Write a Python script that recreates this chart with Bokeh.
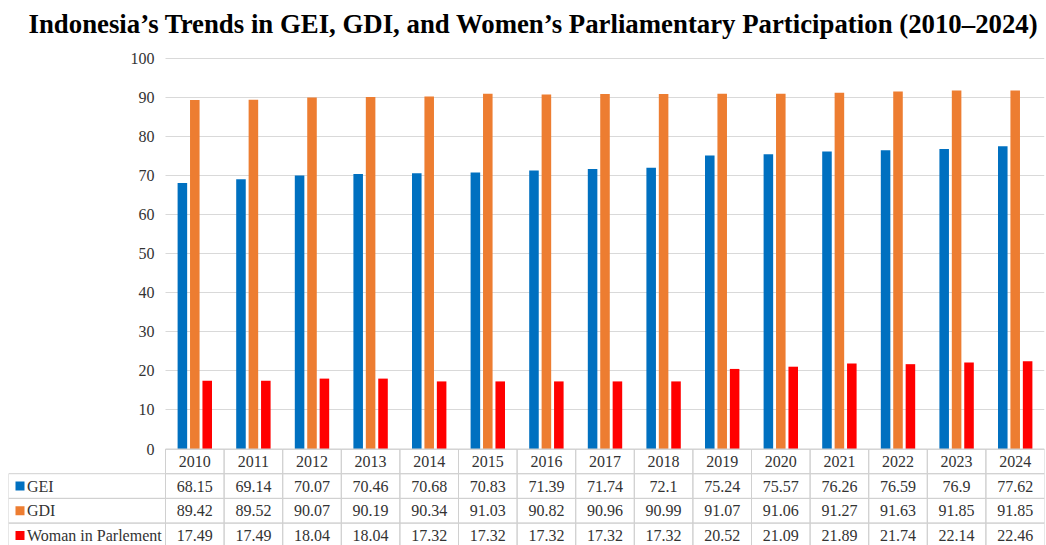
from bokeh.plotting import figure
from bokeh.models import ColumnDataSource, Range1d, FixedTicker
from bokeh.transform import dodge
from bokeh.core.properties import value
from bokeh.embed import file_html
from bokeh.resources import INLINE

# ---- data ----
years = ["2010", "2011", "2012", "2013", "2014", "2015", "2016", "2017",
         "2018", "2019", "2020", "2021", "2022", "2023", "2024"]
gei = [68.15, 69.14, 70.07, 70.46, 70.68, 70.83, 71.39, 71.74,
       72.1, 75.24, 75.57, 76.26, 76.59, 76.9, 77.62]
gdi = [89.42, 89.52, 90.07, 90.19, 90.34, 91.03, 90.82, 90.96,
       90.99, 91.07, 91.06, 91.27, 91.63, 91.85, 91.85]
women = [17.49, 17.49, 18.04, 18.04, 17.32, 17.32, 17.32, 17.32,
         17.32, 20.52, 21.09, 21.89, 21.74, 22.14, 22.46]
series_names = ["GEI", "GDI", "Woman in Parlement"]
series_colors = ["#0070C0", "#ED7D31", "#FF0000"]
y_ticks = [0, 10, 20, 30, 40, 50, 60, 70, 80, 90, 100]
title_text = "Indonesia\u2019s Trends in GEI, GDI, and Women\u2019s Parliamentary Participation (2010\u20132024)"

SERIF = "Liberation Serif"
TXT = "#333333"
GRID = "#d9d9d9"
TABLE_LINE = "#d0d0d0"

# ---- layout constants (pixels) ----
W, H = 1046, 545
BORDER_L, BORDER_R, BORDER_T = 8, 2, 43
LABEL_COL = 157          # width of the table's label column
Y100_PX = 58.3           # page y of value 100
Y0_PX = 448.5            # page y of value 0
ROW_PX = 24.7            # table row height

n = len(years)
frame_w = W - BORDER_L - BORDER_R
cat_px = (frame_w - LABEL_COL) / n
L = LABEL_COL / cat_px
ppu = (Y0_PX - Y100_PX) / 100.0
y_end = 100 + (Y100_PX - BORDER_T) / ppu
y_start = -(H - Y0_PX) / ppu
row = ROW_PX / ppu

p = figure(width=W, height=H, x_range=Range1d(-L, n), y_range=Range1d(y_start, y_end),
           output_backend="svg", toolbar_location=None,
           min_border_left=BORDER_L, min_border_right=BORDER_R,
           min_border_top=BORDER_T, min_border_bottom=0)
p.title.text = title_text
p.title.text_font = SERIF
p.title.text_font_size = "26.8px"
p.title.text_font_style = "bold"
p.title.text_color = "#000000"
p.title.align = "left"
p.title.offset = 20
p.title.standoff = 10
p.outline_line_color = None

# ---- bars ----
xc = [i + 0.5 for i in range(n)]
src = ColumnDataSource(dict(x=xc, year=years, gei=gei, gdi=gdi, women=women))
w = 0.163
off = 0.212
for col, o, c in zip(["gei", "gdi", "women"], [-off, 0, off], series_colors):
    p.vbar(x=dodge("x", o), top=col, width=w, source=src, fill_color=c, line_color=None)

# ---- axes / grid ----
p.xaxis.visible = False
p.xgrid.grid_line_color = None
p.yaxis.fixed_location = 0
p.yaxis.ticker = FixedTicker(ticks=y_ticks)
p.yaxis.axis_line_color = None
p.yaxis.major_tick_line_color = None
p.yaxis.minor_tick_line_color = None
p.yaxis.major_label_text_font = SERIF
p.yaxis.major_label_text_font_size = "16px"
p.yaxis.major_label_text_color = TXT
p.yaxis.major_label_standoff = 5
p.ygrid.grid_line_color = GRID
p.ygrid.ticker = FixedTicker(ticks=y_ticks)
p.ygrid.cross_bounds = (0, n)

# ---- data table ----
rows = [gei, gdi, women]
left, right, top, bottom = [], [], [], []
for i in range(n):
    left.append(i); right.append(i + 1); top.append(0); bottom.append(-row)
for r in range(len(rows)):
    left.append(-L); right.append(0); top.append(-(r + 1) * row); bottom.append(-(r + 2) * row)
    for i in range(n):
        left.append(i); right.append(i + 1)
        top.append(-(r + 1) * row); bottom.append(-(r + 2) * row)
p.quad(left=left, right=right, top=top, bottom=bottom, fill_color=None,
       line_color=TABLE_LINE, line_width=1)

p.text(x=xc, y=[-0.5 * row] * n, text=years,
       text_font=value(SERIF), text_font_size="16px", text_color=TXT,
       text_align="center", text_baseline="middle")
for r, vals in enumerate(rows):
    p.text(x=xc, y=[-(r + 1.5) * row] * n, text=[str(v) for v in vals],
           text_font=value(SERIF), text_font_size="16px", text_color=TXT,
           text_align="center", text_baseline="middle")

ly = [-(r + 1.5) * row for r in range(len(rows))]
key_x = -L + 11.5 / cat_px
p.scatter(x=[key_x] * 3, y=ly, marker="square", size=9, fill_color=series_colors,
          line_color=None)
p.text(x=[-L] * 3, y=ly, text=series_names, x_offset=18.5,
       text_font=value(SERIF), text_font_size="16px", text_color=TXT,
       text_align="left", text_baseline="middle")

open("out.html", "w").write(file_html(p, INLINE))
